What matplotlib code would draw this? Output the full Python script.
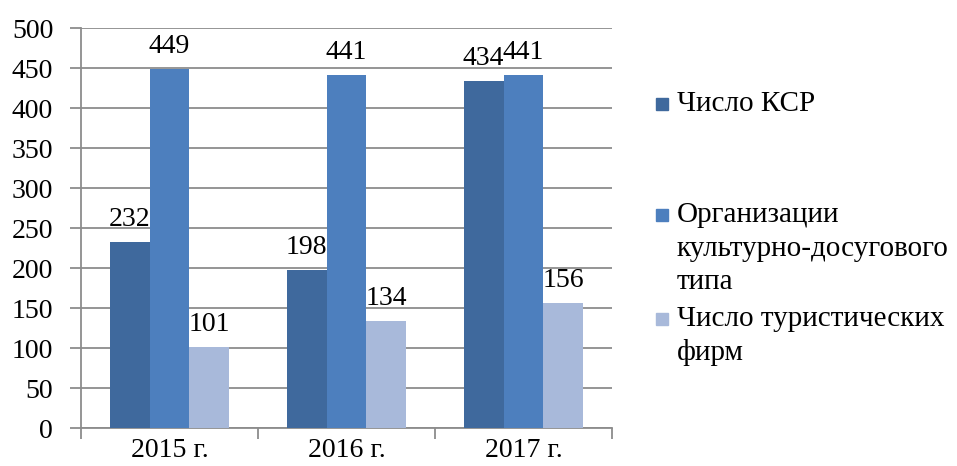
import matplotlib
matplotlib.use("Agg")
import matplotlib.pyplot as plt
from matplotlib.patches import Rectangle
import numpy as np

categories = ["2015 г.", "2016 г.", "2017 г."]
series_names = ["Число КСР", "Организации\nкультурно-досугового\nтипа", "Число туристических\nфирм"]
ksr = [232, 198, 434]
culture = [449, 441, 441]
tourism = [101, 134, 156]
yticks = [0, 50, 100, 150, 200, 250, 300, 350, 400, 450, 500]

colors = ["#3F699D", "#4D7FBE", "#A8B9DA"]
series = [ksr, culture, tourism]

serif = ['Liberation Serif', 'DejaVu Serif']
plt.rcParams['font.family'] = serif

W, H = 957, 466
fig = plt.figure(figsize=(W / 100, H / 100), dpi=100)
ax = fig.add_axes([81 / W, 1 - 428 / H, (612 - 81) / W, (428 - 28) / H])

x = np.arange(len(categories))
bw = 0.225
gray = "#8C8C8C"
for i, (vals, c) in enumerate(zip(series, colors)):
    xs = x + (i - 1) * bw
    ax.bar(xs, vals, width=bw, color=c, zorder=3)
    for xx, v in zip(xs, vals):
        ax.annotate(str(v), (xx, v), xytext=(0, 16 * 0.72), textcoords="offset points",
                    ha="center", va="baseline", fontsize=20, color="black", zorder=4,
                    family=serif)

ax.set_xlim(-0.5, len(categories) - 0.5)
ax.set_ylim(0, 500)
ax.set_yticks(yticks)
ax.set_yticklabels([str(t) for t in yticks], family=serif)
ax.yaxis.grid(True, color=gray, linewidth=1.3, zorder=0)
ax.set_xticks(np.arange(len(categories) + 1) - 0.5)
ax.set_xticklabels([])
ax.set_xticks(x, minor=True)
ax.set_xticklabels(categories, minor=True, family=serif)
ax.tick_params(axis="x", which="major", length=8, width=1.3, color=gray, direction="out")
ax.tick_params(axis="x", which="minor", length=0, pad=7, labelsize=20)
ax.tick_params(axis="y", length=8, width=1.3, color=gray, pad=12, labelsize=20)
for s in ["top", "right"]:
    ax.spines[s].set_visible(False)
for s in ["left", "bottom"]:
    ax.spines[s].set_color(gray)
    ax.spines[s].set_linewidth(1.3)

# legend
first_line_y = [104, 215, 319]
line_step = 33.5
for name, c, y0 in zip(series_names, colors, first_line_y):
    fig.patches.append(Rectangle((656 / W, 1 - (y0 + 6) / H), 12 / W, 12 / H,
                                 transform=fig.transFigure, color=c, figure=fig))
    for j, line in enumerate(name.split("\n")):
        fig.text(677 / W, 1 - (y0 + j * line_step) / H, line, ha="left", va="center",
                 fontsize=21, color="black", family=serif)

fig.savefig("out.png", dpi=100)
